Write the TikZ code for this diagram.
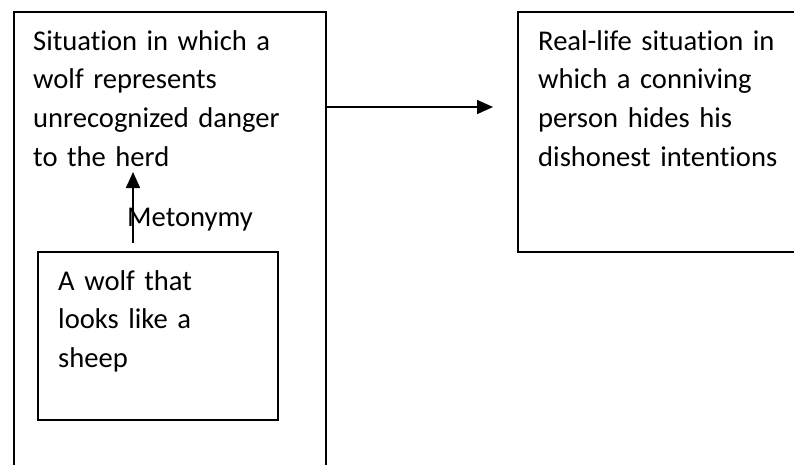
\documentclass[tikz,border=0pt]{standalone}
\usepackage{fontspec}
\setmainfont{Carlito}[Ligatures={NoCommon}]
\usetikzlibrary{arrows.meta}
\tikzset{
  box/.style={draw, line width=1.6pt, rectangle, inner sep=0pt, anchor=north west},
  label/.style={anchor=base west, inner sep=0pt, align=left, text width=#1,
    font=\fontsize{28.6pt}{38.7pt}\selectfont},
  link/.style={line width=1.6pt, -{Triangle[length=16pt, width=14pt]}}
}
\begin{document}
\begin{tikzpicture}[x=1pt, y=-1pt]
  \useasboundingbox (0,0) rectangle (794,464);
  \clip (0,0) rectangle (794,464);
  % frames (outer ones run past the edge of the page)
  \node[box, minimum width=312pt, minimum height=480pt] (source) at (13,11) {};
  \node[box, minimum width=300pt, minimum height=240pt] (target) at (517,11) {};
  \node[box, minimum width=240pt, minimum height=168pt] (vehicle) at (37,251) {};
  % texts
  \node[label=290pt] (sourcetext) at (33,50)
    {Situation in which a\\ wolf represents\\ unrecognized danger\\ to the herd};
  \node[label=280pt] (targettext) at (538,50)
    {Real-life situation in\\ which a conniving\\ person hides his\\ dishonest intentions};
  \node[label=200pt] (vehicletext) at (58,290)
    {A wolf that\\ looks like a\\ sheep};
  \node[label=160pt] (metonymy) at (127,226) {Metonymy};
  % connectors
  \coordinate (maptip) at (493,107);
  \coordinate (metbottom) at (133,243);
  \coordinate (mettop) at (133,172);
  \draw[link] (source.east |- maptip) -- (maptip);
  \draw[link] (metbottom) -- (mettop);
\end{tikzpicture}
\end{document}
